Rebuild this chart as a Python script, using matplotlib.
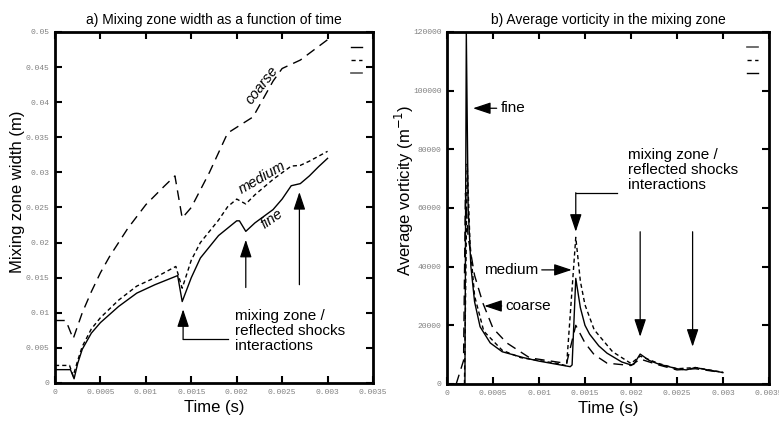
import matplotlib
matplotlib.use('Agg')
import matplotlib.pyplot as plt
from matplotlib.lines import Line2D
from matplotlib.ticker import FixedLocator

# ---- data: a) mixing zone width (m) vs time (s)
fine_t = [0, 0.00017, 0.00021, 0.00025, 0.0003, 0.0004, 0.0005, 0.0007, 0.0009, 0.0011,
          0.00135, 0.0014, 0.0015, 0.0016, 0.0018, 0.002, 0.00203, 0.0021, 0.0022, 0.0024,
          0.0025, 0.0026, 0.0027, 0.0028, 0.0029, 0.003]
fine_w = [0.0019, 0.0019, 0.0006, 0.0028, 0.0048, 0.0071, 0.0086, 0.0109, 0.0128, 0.0140,
          0.0153, 0.0116, 0.0150, 0.0178, 0.0210, 0.0231, 0.0231, 0.0216, 0.0228, 0.0247,
          0.0262, 0.0281, 0.0284, 0.0295, 0.0308, 0.0320]

medium_t = [0, 0.00016, 0.0002, 0.00025, 0.0003, 0.0004, 0.0005, 0.0007, 0.0009, 0.0011,
            0.00133, 0.0014, 0.0015, 0.0016, 0.0018, 0.0019, 0.002, 0.0021, 0.0022, 0.0024,
            0.0026, 0.0027, 0.0028, 0.003]
medium_w = [0.0025, 0.0025, 0.0010, 0.0032, 0.0052, 0.0077, 0.0093, 0.0118, 0.0138, 0.0150,
            0.0166, 0.0135, 0.0175, 0.0200, 0.0232, 0.0251, 0.0262, 0.0255, 0.0268, 0.0290,
            0.0309, 0.0310, 0.0316, 0.0330]

coarse_t = [0, 0.00012, 0.0002, 0.0003, 0.0004, 0.0005, 0.0006, 0.0008, 0.001, 0.0012,
            0.00132, 0.0014, 0.0015, 0.0017, 0.0019, 0.00218, 0.0024, 0.0025, 0.0027, 0.003]
coarse_w = [0.0089, 0.0089, 0.0063, 0.0100, 0.0130, 0.0157, 0.0180, 0.0220, 0.0254, 0.0280,
            0.0295, 0.0235, 0.0250, 0.0300, 0.0356, 0.0379, 0.0430, 0.0448, 0.0460, 0.0489]

# ---- data: b) average vorticity (1/m) vs time (s)
fine_vt = [0, 0.000195, 0.00021, 0.00023, 0.00026, 0.0003, 0.00036, 0.00047, 0.0006, 0.00083,
           0.001, 0.00134, 0.00136, 0.0014, 0.00145, 0.0015, 0.00155, 0.00165, 0.00174, 0.0019,
           0.002, 0.00203, 0.0021, 0.0022, 0.0023, 0.0025, 0.0026, 0.0027, 0.0028, 0.003]
fine_v = [0, 0, 120000, 60000, 40000, 28000, 19500, 14000, 11000, 9000,
          7800, 5900, 6500, 36000, 26000, 20000, 17000, 13000, 10500, 7500,
          6500, 6700, 10200, 8000, 6800, 5200, 4800, 5600, 5000, 3900]

medium_vt = [0.00019, 0.00022, 0.00025, 0.0003, 0.0004, 0.0006, 0.0008, 0.001, 0.0012, 0.0013,
             0.0014, 0.00145, 0.0015, 0.0016, 0.0018, 0.002, 0.0021, 0.0023, 0.0025, 0.0027, 0.003]
medium_v = [0, 75000, 48000, 30000, 18000, 11500, 9000, 8000, 7000, 6200,
            50000, 35000, 27000, 18500, 11000, 7000, 9500, 7000, 5200, 5600, 4000]

coarse_vt = [0.0001, 0.00018, 0.0002, 0.00023, 0.0003, 0.00039, 0.0005, 0.00065, 0.0009, 0.0013,
             0.0014, 0.0015, 0.0016, 0.00174, 0.002, 0.0021, 0.0023, 0.0025, 0.0027, 0.003]
coarse_v = [0, 8000, 65000, 50000, 37000, 27600, 19000, 14000, 8900, 7000,
            20000, 14000, 10000, 7100, 6300, 8500, 6500, 4800, 5200, 3900]

x_ticks = [0, 0.0005, 0.001, 0.0015, 0.002, 0.0025, 0.003, 0.0035]
x_labels = ['0', '0.0005', '0.001', '0.0015', '0.002', '0.0025', '0.003', '0.0035']
w_ticks = [0, 0.005, 0.01, 0.015, 0.02, 0.025, 0.03, 0.035, 0.04, 0.045, 0.05]
w_labels = ['0', '0.005', '0.01', '0.015', '0.02', '0.025', '0.03', '0.035', '0.04', '0.045', '0.05']
v_ticks = [0, 20000, 40000, 60000, 80000, 100000, 120000]
v_labels = ['0', '20000', '40000', '60000', '80000', '100000', '120000']

plt.rcParams['font.family'] = ['Liberation Sans', 'DejaVu Sans']

fig = plt.figure(figsize=(7.79, 4.21), dpi=100)
ax1 = fig.add_axes([0.0706, 0.0903, 0.4082, 0.8337])
ax2 = fig.add_axes([0.5738, 0.0879, 0.4133, 0.8361])

ls_medium = (0, (3, 2.2))
ls_coarse = (0, (7, 4.5))
tick_font = dict(family=['Liberation Mono', 'DejaVu Sans Mono'], size=5.8, color='#808080')


def style_axes(ax, yt, yl, ymax):
    ax.set_xlim(0, 0.0035)
    ax.set_ylim(0, ymax)
    ax.xaxis.set_major_locator(FixedLocator(x_ticks))
    ax.yaxis.set_major_locator(FixedLocator(yt))
    ax.set_xticklabels(x_labels, fontdict=tick_font)
    ax.set_yticklabels(yl, fontdict=tick_font)
    ax.tick_params(direction='in', top=True, right=True, length=5, width=1.5, pad=4)
    for s in ax.spines.values():
        s.set_linewidth(2)
    ax.set_xlabel('Time (s)', fontsize=12, labelpad=3)
    leg_handles = [Line2D([], [], color='k', lw=1),
                   Line2D([], [], color='k', lw=1, ls=(0, (3, 2.5))),
                   Line2D([], [], color='#555555', lw=1.2)]
    if ax is ax2:
        leg_handles = leg_handles[::-1]
        leg_handles[0].set_color('#555555')
        leg_handles[2].set_color('k')
    ax.legend(leg_handles, ['', '', ''], loc='upper right', frameon=False, handlelength=1.0,
              handletextpad=0, labelspacing=0.25, fontsize=8, borderaxespad=0.6)


# ---- panel a
ax1.plot(fine_t, fine_w, color='k', lw=1)
ax1.plot(medium_t, medium_w, color='k', lw=1, ls=ls_medium)
ax1.plot(coarse_t, coarse_w, color='k', lw=1, ls=ls_coarse)
style_axes(ax1, w_ticks, w_labels, 0.05)
ax1.set_ylabel('Mixing zone width (m)', fontsize=12)
ax1.yaxis.set_label_coords(-0.095, 0.545)
ax1.set_title('a) Mixing zone width as a function of time', fontsize=10, pad=6)

ax1.text(0.00228, 0.0424, 'coarse', style='italic', fontsize=10.5, rotation=52,
         ha='center', va='center')
ax1.text(0.00228, 0.0292, 'medium', style='italic', fontsize=10.5, rotation=30,
         ha='center', va='center')
ax1.text(0.00239, 0.0233, 'fine', style='italic', fontsize=10.5, rotation=35,
         ha='center', va='center')
ax1.text(0.00198, 0.0106, 'mixing zone /\nreflected shocks\ninteractions', fontsize=11,
         ha='left', va='top', linespacing=1.1)

arrow = dict(arrowstyle='-|>,head_length=0.9,head_width=0.3', color='k', lw=0.9,
             mutation_scale=12, shrinkA=0, shrinkB=0)
ax1.plot([0.00141, 0.0019], [0.0062, 0.0062], color='k', lw=0.9)
ax1.annotate('', xy=(0.00141, 0.0105), xytext=(0.00141, 0.0062), arrowprops=arrow)
ax1.annotate('', xy=(0.0021, 0.0204), xytext=(0.0021, 0.0136), arrowprops=arrow)
ax1.annotate('', xy=(0.00269, 0.0272), xytext=(0.00269, 0.0140), arrowprops=arrow)

# ---- panel b
ax2.plot(fine_vt, fine_v, color='k', lw=1)
ax2.plot(medium_vt, medium_v, color='k', lw=1, ls=ls_medium)
ax2.plot(coarse_vt, coarse_v, color='k', lw=1, ls=ls_coarse)
style_axes(ax2, v_ticks, v_labels, 120000)
ax2.set_ylabel('Average vorticity (m$^{-1}$)', fontsize=12)
ax2.yaxis.set_label_coords(-0.097, 0.55)
ax2.set_title('b) Average vorticity in the mixing zone', fontsize=10, pad=6)

ax2.annotate('', xy=(0.000283, 94000), xytext=(0.00054, 94000), arrowprops=arrow)
ax2.text(0.00058, 94000, 'fine', fontsize=11, ha='left', va='center')
ax2.annotate('', xy=(0.001356, 38900), xytext=(0.00103, 38900), arrowprops=arrow)
ax2.text(0.00099, 38900, 'medium', fontsize=11, ha='right', va='center')
ax2.annotate('', xy=(0.000405, 26600), xytext=(0.000595, 26600), arrowprops=arrow)
ax2.text(0.00063, 26600, 'coarse', fontsize=11, ha='left', va='center')
ax2.text(0.00197, 80500, 'mixing zone /\nreflected shocks\ninteractions', fontsize=11,
         ha='left', va='top', linespacing=1.1)
ax2.plot([0.0014, 0.00185], [65200, 65200], color='k', lw=0.9)
ax2.annotate('', xy=(0.0014, 51900), xytext=(0.0014, 65200), arrowprops=arrow)
ax2.annotate('', xy=(0.0021, 16100), xytext=(0.0021, 51900), arrowprops=arrow)
ax2.annotate('', xy=(0.00267, 12700), xytext=(0.00267, 51900), arrowprops=arrow)

fig.savefig('out.png', dpi=100)
